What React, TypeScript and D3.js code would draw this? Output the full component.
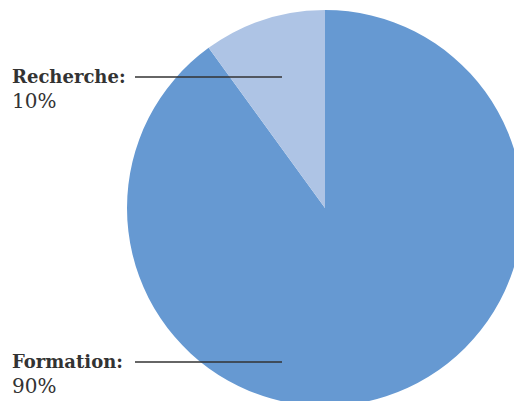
import React from "react";
import * as d3 from "d3";

const categories = ["Formation", "Recherche"];
const values = [90, 10];
const percentLabels = ["90%", "10%"];
const colors = ["#6699D2", "#AEC4E5"];

const W = 514;
const H = 401;

export default function App() {
  const cx = 325;
  const cy = 208;
  const r = 198;
  const pie = d3.pie<number>().sort(null).startAngle(0).endAngle(2 * Math.PI);
  const arcs = pie(values);
  const arc = d3.arc<d3.PieArcDatum<number>>().innerRadius(0).outerRadius(r);
  const labelPos = [{ y: 362 }, { y: 77 }];
  const font = "'DejaVu Serif', serif";
  return (
    <div style={{ position: "fixed", left: 0, top: 0 }}>
      <svg width={W} height={H} style={{ display: "block", background: "#fff" }}>
        <g transform={`translate(${cx},${cy})`}>
          {arcs.map((a, i) => (
            <path key={i} d={arc(a) || ""} fill={colors[i]} />
          ))}
        </g>
        {categories.map((c, i) => (
          <g key={c}>
            <line x1={135} x2={282} y1={labelPos[i].y} y2={labelPos[i].y} stroke="#333" strokeWidth={1.3} />
            <text x={12} y={labelPos[i].y + 5.5} fontFamily={font} fontWeight="bold" fontSize={18} fill="#333">
              {c}:
            </text>
            <text x={12} y={labelPos[i].y + 30.5} fontFamily={font} fontSize={20} fill="#333">
              {percentLabels[i]}
            </text>
          </g>
        ))}
      </svg>
    </div>
  );
}
